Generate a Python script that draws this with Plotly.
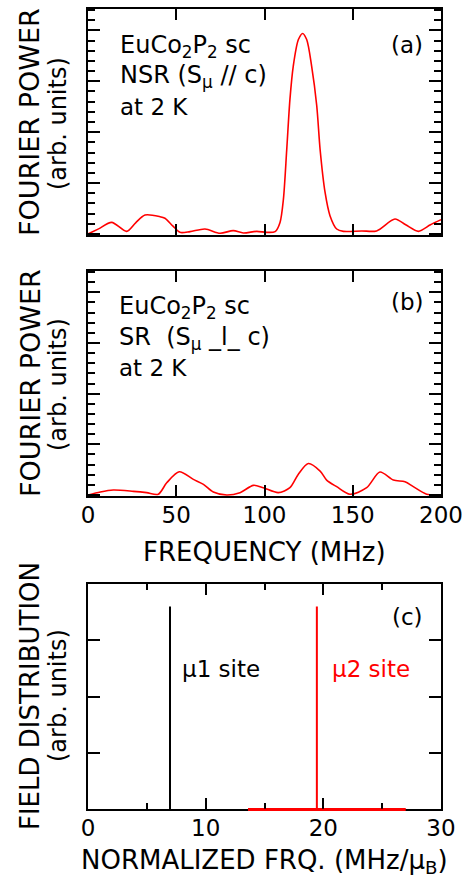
import plotly.graph_objects as go

# ---- data ----
freq_a = [0, 6, 13.4, 21.9, 27, 32.3, 40.8, 43.6, 48, 52.1, 57.8, 66.3, 74.8, 82.3, 88, 95.6,
          101.2, 106, 108.8, 110.7, 112.6, 114.4, 116.3, 119.2, 121.6, 123.9, 126.7, 129.6,
          131.5, 134.3, 137.1, 140.9, 144.7, 155, 163.5, 173.9, 180, 187.2, 194, 200]
power_a = [0, 0.5, 1.14, 0.26, 1.1, 1.86, 1.70, 1.54, 0.8, 0.16, 0.23, 0.49, 0.07, 0.33, 0.1, 0.26,
           0.16, 0.23, 1.14, 3.4, 8.3, 13.2, 16.5, 19.1, 19.7, 19.1, 16.5, 12.6,
           8.3, 4.1, 1.8, 0.49, 0.26, 0.3, 0.3, 1.47, 0.9, 0.26, 0.9, 1.4]

freq_b = [0, 7, 14.3, 25.7, 33.2, 39.8, 44.6, 51.7, 59.7, 65.4, 71, 78.6, 86.1, 93.7, 99.3,
          107.8, 114.4, 119, 124.8, 131.5, 135.2, 140.9, 148.4, 157.9, 165.4, 173, 179.6,
          184.3, 191.9, 200]
power_b = [0, 0.3, 0.49, 0.36, 0.23, 0.07, 1.2, 2.29, 1.54, 1.05, 0.3, 0, 0.23, 0.95, 0.72,
           0.23, 0.72, 2.0, 3.1, 2.36, 1.47, 0.82, 0.07, 0.72, 2.26, 1.47, 1.31,
           0.82, 0.07, 0.02]

mu1_x = [6.97, 6.97]
mu1_y = [0, 3.6]
mu2_x = [13.6, 19.45, 19.45, 19.45, 27.0]
mu2_y = [0, 0, 3.6, 0, 0]

freq_ticks = [0, 50, 100, 150, 200]
norm_ticks = [0, 10, 20, 30]

# ---- layout geometry ----
W, H = 470, 880
ML, MR, MT, MB = 88, 29, 9, 71
PW, PH = W - ML - MR, H - MT - MB
FONT = "DejaVu Sans"


def px2x(px):
    return (px - ML) / PW


def py2y(py):
    return 1 - (py - MT) / PH


dom_a = [py2y(235), py2y(9)]
dom_b = [py2y(496), py2y(271)]
dom_c = [0, py2y(584)]

fig = go.Figure()
red = "#ff0000"
fig.add_trace(go.Scatter(x=freq_a, y=power_a, mode="lines",
                         line=dict(color=red, width=1.6, shape="spline", smoothing=0.8),
                         xaxis="x", yaxis="y", showlegend=False))
fig.add_trace(go.Scatter(x=freq_b, y=power_b, mode="lines",
                         line=dict(color=red, width=1.6, shape="spline", smoothing=0.8),
                         xaxis="x2", yaxis="y2", showlegend=False))
fig.add_trace(go.Scatter(x=mu1_x, y=mu1_y, mode="lines", line=dict(color="black", width=2),
                         xaxis="x3", yaxis="y3", showlegend=False))
fig.add_trace(go.Scatter(x=mu2_x, y=mu2_y, mode="lines", line=dict(color=red, width=2),
                         xaxis="x3", yaxis="y3", showlegend=False))

# red baseline of the mu2 distribution lies on the bottom axis line of panel (c)
fig.add_shape(type="line", xref="x3", yref="paper", x0=mu2_x[0], x1=mu2_x[-1], y0=-0.0012, y1=-0.0012,
              line=dict(color=red, width=2.2), layer="above")

axcommon = dict(showline=True, linecolor="black", linewidth=2, mirror="ticks", ticks="inside",
                tickcolor="black", tickwidth=1.5, showgrid=False, zeroline=False,
                ticklabelstandoff=-3,
                tickfont=dict(family=FONT, size=23, color="black"))

fr_axis = dict(axcommon, range=[0, 200], tickvals=freq_ticks, ticklen=11)
fig.update_layout(
    xaxis=dict(fr_axis, anchor="y", showticklabels=False),
    xaxis2=dict(fr_axis, anchor="y2", showticklabels=True),
    xaxis3=dict(axcommon, anchor="y3", range=[0, 30], tickvals=norm_ticks, ticklen=11,
                minor=dict(dtick=5, ticklen=6, ticks="inside", tickcolor="black", tickwidth=1.5)),
    yaxis=dict(axcommon, domain=dom_a, range=[-0.1, 22.1], dtick=5, ticklen=12, showticklabels=False,
               minor=dict(dtick=1, ticklen=7, ticks="inside", tickcolor="black", tickwidth=1.5)),
    yaxis2=dict(axcommon, domain=dom_b, range=[-0.1, 22.1], dtick=5, ticklen=12, showticklabels=False,
                minor=dict(dtick=1, ticklen=7, ticks="inside", tickcolor="black", tickwidth=1.5)),
    yaxis3=dict(axcommon, domain=dom_c, range=[0, 4], dtick=1, ticklen=12, showticklabels=False),
)

anns = []


def txt(text, px, py, size, xanchor="left", color="black", angle=0):
    anns.append(dict(text=text, x=px2x(px), y=py2y(py), xref="paper", yref="paper",
                     xanchor=xanchor, yanchor="middle", showarrow=False, textangle=angle,
                     font=dict(family=FONT, size=size, color=color)))


# panel (a)
txt("EuCo<sub>2</sub>P<sub>2</sub> sc", 118, 46, 24)
txt("NSR (S<sub>μ</sub> // c)", 118, 77, 24)
txt("at 2 K", 118, 107, 23)
txt("(a)", 407, 45, 23, xanchor="center")
# panel (b)
txt("EuCo<sub>2</sub>P<sub>2</sub> sc", 117, 307, 24)
txt("SR\u00a0 (S<sub>μ</sub> _l_ c)", 117, 338, 24)
txt("at 2 K", 117, 368, 23)
txt("(b)", 407, 302, 23, xanchor="center")
# panel (c)
txt("μ1 site", 180, 669, 23)
txt("μ2 site", 330, 669, 23, color=red)
txt("(c)", 407, 617, 23, xanchor="center")
# axis titles
txt("FOURIER POWER", 30, 122, 27, xanchor="center", angle=-90)
txt("(arb. units)", 58, 124, 24, xanchor="center", angle=-90)
txt("FOURIER POWER", 30, 383, 27, xanchor="center", angle=-90)
txt("(arb. units)", 58, 385, 24, xanchor="center", angle=-90)
txt("FIELD DISTRIBUTION", 30, 696, 26, xanchor="center", angle=-90)
txt("(arb. units)", 58, 696, 24, xanchor="center", angle=-90)
txt("FREQUENCY (MHz)", 264.5, 552, 26, xanchor="center")
txt("NORMALIZED FRQ. (MHz/μ<sub>B</sub>)", 264, 861, 26, xanchor="center")

fig.update_layout(annotations=anns, width=W, height=H,
                  margin=dict(l=ML, r=MR, t=MT, b=MB, autoexpand=False),
                  paper_bgcolor="white", plot_bgcolor="white",
                  font=dict(family=FONT, color="black"))

fig.write_html("out.html")
